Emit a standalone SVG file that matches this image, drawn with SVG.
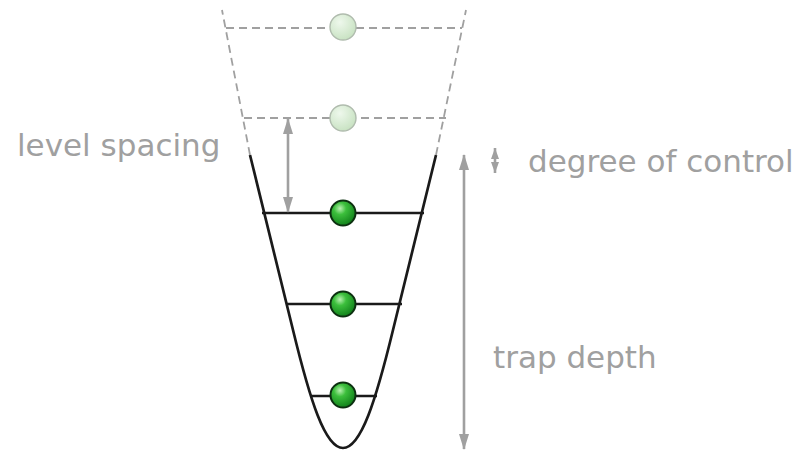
<svg xmlns="http://www.w3.org/2000/svg" width="802" height="450" viewBox="0 0 802 450">
  <defs>
    <radialGradient id="gBall" cx="0.38" cy="0.32" r="0.7">
      <stop offset="0" stop-color="#b8f0b0"/>
      <stop offset="0.35" stop-color="#3cbf3c"/>
      <stop offset="1" stop-color="#10801a"/>
    </radialGradient>
    <radialGradient id="pBall" cx="0.38" cy="0.32" r="0.7">
      <stop offset="0" stop-color="#eef8ec"/>
      <stop offset="1" stop-color="#c8e2c2"/>
    </radialGradient>
    <marker id="ah" viewBox="0 0 16 10" refX="15" refY="5" markerWidth="16" markerHeight="10" markerUnits="userSpaceOnUse" orient="auto-start-reverse">
      <path d="M0,0 L16,5 L0,10 Z" fill="#a0a0a0"/>
    </marker>
    <marker id="ahs" viewBox="0 0 11 8" refX="11" refY="4" markerWidth="11" markerHeight="8" markerUnits="userSpaceOnUse" orient="auto-start-reverse">
      <path d="M0,0 L11,4 L0,8 Z" fill="#a0a0a0"/>
    </marker>
  </defs>
  <style>
    .txt { font-family: "DejaVu Sans", "Liberation Sans", sans-serif; font-size: 31px; fill: #a0a0a0; }
    .dash { fill: none; stroke: #a0a0a0; stroke-width: 1.8; stroke-dasharray: 8 5; }
    .trap { fill: none; stroke: #1a1a1a; stroke-width: 2.7; }
    .lvl { stroke: #1a1a1a; stroke-width: 2.4; }
    .arr { stroke: #a0a0a0; stroke-width: 2.6; fill: none; }
    .ball { fill: url(#gBall); stroke: #0c3010; stroke-width: 2; }
    .pale { fill: url(#pBall); stroke: #b0bcae; stroke-width: 1.4; }
  </style>
  <rect width="802" height="450" fill="#ffffff"/>

  <g id="trap">
    <path class="trap" d="M250,155 L293,330 C310,400 325,448 343,448 C361,448 376,400 393,330 L436,155"/>
    <path class="dash" d="M250,155 L222,10"/>
    <path class="dash" d="M436,155 L466,10"/>
  </g>

  <g id="level-4">
    <line class="dash" x1="226" y1="28" x2="462" y2="28"/>
    <circle class="pale" cx="343" cy="27" r="13"/>
  </g>
  <g id="level-3">
    <line class="dash" x1="244" y1="118" x2="446" y2="118"/>
    <circle class="pale" cx="343" cy="118" r="13"/>
  </g>
  <g id="level-2">
    <line class="lvl" x1="262" y1="213" x2="424" y2="213"/>
    <circle class="ball" cx="343" cy="213" r="12.5"/>
  </g>
  <g id="level-1">
    <line class="lvl" x1="286" y1="304" x2="402" y2="304"/>
    <circle class="ball" cx="343" cy="304" r="12.5"/>
  </g>
  <g id="level-0">
    <line class="lvl" x1="311" y1="396" x2="377" y2="396"/>
    <circle class="ball" cx="343" cy="395" r="12.5"/>
  </g>

  <g id="connectors">
    <line class="arr" x1="288" y1="119" x2="288" y2="212" marker-start="url(#ah)" marker-end="url(#ah)"/>
    <line class="arr" x1="464" y1="155" x2="464" y2="449" marker-start="url(#ah)" marker-end="url(#ah)"/>
    <line class="arr" x1="495" y1="148" x2="495" y2="173" marker-start="url(#ahs)" marker-end="url(#ahs)"/>
  </g>

  <g id="label-level-spacing">
    <text class="txt" x="17" y="156">level spacing</text>
  </g>
  <g id="label-degree-of-control">
    <text class="txt" x="528" y="172">degree of control</text>
  </g>
  <g id="label-trap-depth">
    <text class="txt" x="493" y="368">trap depth</text>
  </g>
</svg>
